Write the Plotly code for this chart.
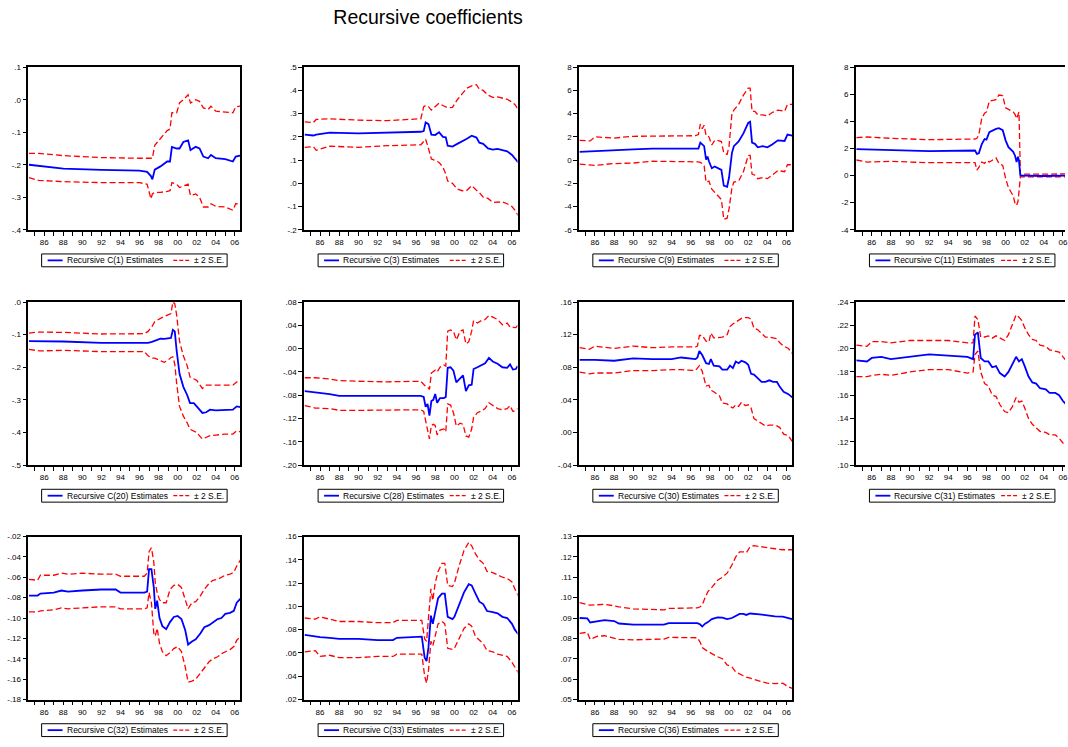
import plotly.graph_objects as go

W, H = 1068, 747
FONT = "Liberation Sans, Arial, sans-serif"
BLUE = "#0000FF"
RED = "#FF0000"

# ---------------- recursive estimates (estimate, +2 S.E., -2 S.E.) ----------------
C1_X = [1984.4, 1985.4, 1988.0, 1992.0, 1996.0, 1996.8, 1997.2, 1997.35, 1997.6, 1998.2,
        1998.9, 1999.2, 1999.4, 1999.9, 2000.2, 2000.6, 2001.1, 2001.35, 2001.9, 2002.3,
        2002.7, 2003.2, 2003.5, 2004.0, 2005.0, 2005.8, 2006.1, 2006.55]
C1_EST = [-0.200, -0.203, -0.212, -0.216, -0.218, -0.222, -0.235, -0.245, -0.215, -0.205,
          -0.190, -0.190, -0.145, -0.150, -0.150, -0.130, -0.125, -0.155, -0.145, -0.150,
          -0.175, -0.180, -0.170, -0.180, -0.183, -0.190, -0.175, -0.172]
C1_UP = [-0.165, -0.165, -0.172, -0.178, -0.180, -0.180, -0.180, -0.180, -0.140, -0.120,
         -0.095, -0.090, -0.040, -0.040, -0.010, 0.000, 0.015, -0.010, 0.000, -0.005,
         -0.025, -0.030, -0.020, -0.035, -0.037, -0.040, -0.022, -0.020]
C1_LO = [-0.240, -0.248, -0.252, -0.255, -0.255, -0.260, -0.305, -0.290, -0.285, -0.285,
         -0.282, -0.280, -0.255, -0.260, -0.270, -0.265, -0.260, -0.295, -0.290, -0.300,
         -0.330, -0.330, -0.320, -0.328, -0.330, -0.340, -0.320, -0.320]

C3_X = [1984.4, 1985.3, 1985.6, 1987.0, 1990.0, 1993.0, 1996.5, 1996.8, 1997.0, 1997.3,
        1997.6, 1998.0, 1998.4, 1998.8, 1999.1, 1999.3, 1999.8, 2000.3, 2000.8, 2001.3,
        2001.8, 2002.3, 2002.6, 2003.0, 2003.5, 2004.0, 2004.5, 2005.0, 2005.5, 2006.0,
        2006.3, 2006.66]
C3_EST = [0.210, 0.206, 0.210, 0.218, 0.215, 0.217, 0.222, 0.225, 0.262, 0.255,
          0.210, 0.208, 0.220, 0.200, 0.198, 0.162, 0.158, 0.170, 0.180, 0.192,
          0.205, 0.197, 0.175, 0.170, 0.150, 0.145, 0.148, 0.142, 0.138, 0.122,
          0.108, 0.090]
C3_UP = [0.265, 0.262, 0.275, 0.278, 0.272, 0.270, 0.278, 0.330, 0.335, 0.330,
         0.315, 0.330, 0.345, 0.335, 0.330, 0.325, 0.327, 0.360, 0.385, 0.410,
         0.420, 0.425, 0.405, 0.400, 0.380, 0.370, 0.372, 0.368, 0.362, 0.350,
         0.340, 0.318]
C3_LO = [0.155, 0.158, 0.142, 0.160, 0.155, 0.162, 0.166, 0.180, 0.190, 0.150,
         0.105, 0.098, 0.090, 0.070, 0.040, 0.010, 0.000, -0.025, -0.032, -0.030,
         -0.010, -0.030, -0.040, -0.060, -0.065, -0.082, -0.082, -0.080, -0.088, -0.100,
         -0.115, -0.140]

C9_X = [1984.4, 1985.5, 1986.0, 1988.0, 1990.0, 1992.0, 1994.0, 1996.5, 1996.8, 1997.0,
        1997.2, 1997.4, 1997.6, 1997.75, 1997.9, 1998.2, 1998.5, 1998.8, 1999.2, 1999.45,
        1999.8, 2000.0, 2000.3, 2000.5, 2001.0, 2001.5, 2002.0, 2002.2, 2002.4, 2002.7,
        2003.0, 2003.5, 2004.0, 2004.5, 2005.1, 2005.8, 2006.1, 2006.6]
C9_EST = [0.70, 0.75, 0.78, 0.85, 0.93, 0.98, 1.00, 1.00, 1.00, 1.50,
          1.35, 1.20, 0.05, 0.30, -0.10, -0.70, -0.55, -0.70, -0.85, -2.20,
          -2.30, -1.50, 0.60, 1.20, 1.60, 2.30, 3.20, 3.30, 1.50, 1.40,
          1.10, 1.20, 1.10, 1.35, 1.70, 1.65, 2.20, 2.10]
C9_UP = [1.70, 1.65, 2.00, 1.90, 2.05, 2.05, 2.10, 2.10, 2.20, 3.10,
         2.70, 3.00, 2.10, 2.10, 2.00, 1.30, 1.70, 1.70, 1.60, 0.60,
         0.50, 1.20, 4.00, 4.30, 4.80, 5.60, 6.20, 6.20, 4.20, 4.20,
         3.90, 3.90, 3.80, 4.10, 4.30, 4.20, 4.80, 4.80]
C9_LO = [-0.35, -0.40, -0.45, -0.30, -0.25, -0.10, -0.10, -0.15, -0.15, -0.20,
         -0.30, -0.50, -1.90, -1.85, -1.80, -2.50, -2.80, -3.10, -3.40, -5.10,
         -5.00, -4.20, -2.40, -1.90, -1.80, -1.00, 0.40, 0.40, -1.20, -1.30,
         -1.60, -1.50, -1.60, -1.30, -0.90, -1.00, -0.40, -0.40]

C11_X = [1984.4, 1985.5, 1988.0, 1992.0, 1996.8, 1997.0, 1997.2, 1997.5, 1997.8, 1998.0,
         1998.3, 1998.8, 1999.0, 1999.3, 1999.7, 2000.0, 2000.3, 2000.8, 2001.0, 2001.15,
         2001.3, 2001.4, 2001.55, 2002.0, 2004.0, 2006.6]
C11_EST = [1.95, 1.92, 1.88, 1.80, 1.85, 1.60, 1.65, 2.30, 2.70, 2.65,
           3.20, 3.40, 3.45, 3.50, 3.35, 2.60, 2.10, 1.75, 1.45, 1.00,
           1.40, 1.10, 0.00, 0.00, -0.03, 0.00]
C11_UP = [2.80, 2.85, 2.75, 2.65, 2.70, 2.75, 3.00, 4.20, 4.60, 4.70,
          5.50, 5.55, 5.60, 5.95, 5.90, 5.00, 4.90, 4.70, 4.50, 4.20,
          4.50, 4.70, 0.10, 0.10, 0.10, 0.12]
C11_LO = [1.15, 1.00, 1.05, 0.95, 0.95, 0.40, 0.60, 1.00, 0.90, 1.10,
          1.00, 1.20, 1.30, 0.90, 0.75, -0.20, -0.90, -1.50, -2.10, -2.20,
          -1.90, -1.20, -0.10, -0.10, -0.10, -0.10]

C20_X = [1984.4, 1985.5, 1988.0, 1992.0, 1996.5, 1996.9, 1997.3, 1997.6, 1998.2, 1998.6,
         1999.0, 1999.3, 1999.5, 1999.7, 1999.9, 2000.2, 2000.6, 2001.0, 2001.3, 2001.7,
         2002.0, 2002.6, 2003.0, 2003.4, 2004.0, 2005.0, 2005.8, 2006.2, 2006.6]
C20_EST = [-0.120, -0.120, -0.121, -0.125, -0.126, -0.125, -0.122, -0.118, -0.112, -0.113,
           -0.112, -0.110, -0.085, -0.090, -0.150, -0.220, -0.260, -0.285, -0.310, -0.310,
           -0.320, -0.340, -0.338, -0.330, -0.332, -0.330, -0.330, -0.320, -0.322]
C20_UP = [-0.095, -0.092, -0.093, -0.098, -0.097, -0.090, -0.075, -0.060, -0.050, -0.045,
          -0.040, -0.035, 0.000, -0.005, -0.040, -0.120, -0.165, -0.195, -0.230, -0.235,
          -0.240, -0.265, -0.255, -0.255, -0.255, -0.257, -0.255, -0.245, -0.248]
C20_LO = [-0.145, -0.150, -0.148, -0.152, -0.152, -0.165, -0.172, -0.172, -0.180, -0.185,
          -0.178, -0.170, -0.168, -0.190, -0.250, -0.320, -0.350, -0.370, -0.390, -0.395,
          -0.400, -0.420, -0.415, -0.410, -0.408, -0.405, -0.405, -0.395, -0.398]

C28_X = [1984.4, 1985.5, 1987.0, 1988.0, 1990.0, 1993.0, 1996.5, 1996.8, 1997.0, 1997.2,
         1997.4, 1997.6, 1997.8, 1998.0, 1998.2, 1998.5, 1998.9, 1999.1, 1999.3, 1999.6,
         1999.9, 2000.2, 2000.6, 2000.9, 2001.2, 2001.5, 2001.8, 2002.0, 2002.4, 2002.8,
         2003.2, 2003.6, 2004.0, 2004.5, 2005.0, 2005.5, 2005.8, 2006.1, 2006.4, 2006.6]
C28_EST = [-0.073, -0.075, -0.078, -0.081, -0.081, -0.082, -0.081, -0.083, -0.100, -0.095,
           -0.115, -0.090, -0.088, -0.078, -0.093, -0.085, -0.085, -0.083, -0.033, -0.032,
           -0.038, -0.058, -0.050, -0.046, -0.073, -0.063, -0.062, -0.035, -0.032, -0.028,
           -0.025, -0.016, -0.022, -0.026, -0.032, -0.033, -0.027, -0.036, -0.035, -0.030]
C28_UP = [-0.050, -0.050, -0.052, -0.055, -0.056, -0.057, -0.056, -0.062, -0.065, -0.066,
          -0.070, -0.042, -0.040, -0.037, -0.040, -0.032, -0.028, -0.030, 0.030, 0.032,
          0.030, 0.015, 0.030, 0.032, 0.008, 0.012, 0.030, 0.048, 0.044, 0.048,
          0.050, 0.057, 0.054, 0.050, 0.041, 0.044, 0.037, 0.036, 0.036, 0.040]
C28_LO = [-0.098, -0.102, -0.103, -0.106, -0.106, -0.105, -0.105, -0.108, -0.125, -0.140,
          -0.155, -0.132, -0.130, -0.132, -0.148, -0.140, -0.138, -0.143, -0.095, -0.097,
          -0.110, -0.133, -0.128, -0.130, -0.150, -0.152, -0.138, -0.118, -0.110, -0.107,
          -0.103, -0.093, -0.097, -0.103, -0.105, -0.103, -0.098, -0.108, -0.106, -0.103]

C30_X = [1984.4, 1985.4, 1986.0, 1988.0, 1990.0, 1992.0, 1994.0, 1995.0, 1996.5, 1996.7,
         1996.9, 1997.2, 1997.6, 1997.9, 1998.1, 1998.4, 1999.0, 1999.3, 1999.8, 2000.1,
         2000.4, 2000.7, 2001.0, 2001.3, 2001.7, 2002.0, 2002.3, 2002.6, 2003.0, 2003.4,
         2003.8, 2004.2, 2004.6, 2005.0, 2005.3, 2005.7, 2006.2, 2006.6]
C30_EST = [0.089, 0.089, 0.089, 0.088, 0.091, 0.090, 0.090, 0.092, 0.090, 0.092,
           0.100, 0.095, 0.085, 0.084, 0.090, 0.082, 0.081, 0.077, 0.077, 0.082,
           0.079, 0.087, 0.085, 0.088, 0.086, 0.083, 0.072, 0.071, 0.067, 0.062,
           0.062, 0.064, 0.062, 0.062, 0.056, 0.050, 0.047, 0.043]
C30_UP = [0.104, 0.102, 0.106, 0.103, 0.106, 0.104, 0.105, 0.105, 0.105, 0.106,
          0.119, 0.119, 0.112, 0.111, 0.122, 0.116, 0.117, 0.117, 0.120, 0.130,
          0.133, 0.135, 0.138, 0.140, 0.141, 0.141, 0.139, 0.128, 0.126, 0.122,
          0.117, 0.117, 0.116, 0.115, 0.110, 0.106, 0.103, 0.097]
C30_LO = [0.074, 0.072, 0.073, 0.073, 0.076, 0.076, 0.077, 0.077, 0.076, 0.079,
          0.082, 0.075, 0.057, 0.058, 0.052, 0.050, 0.045, 0.036, 0.035, 0.032,
          0.030, 0.034, 0.032, 0.037, 0.033, 0.034, 0.030, 0.017, 0.014, 0.010,
          0.008, 0.009, 0.009, 0.008, 0.006, -0.002, -0.004, -0.011]

C31_X = [1984.4, 1985.5, 1986.0, 1987.0, 1988.0, 1990.0, 1992.0, 1994.0, 1996.0, 1996.6,
         1996.8, 1997.1, 1997.4, 1997.8, 1998.2, 1998.6, 1999.0, 1999.4, 1999.9, 2000.3,
         2000.7, 2001.1, 2001.4, 2001.7, 2002.0, 2002.4, 2002.8, 2003.2, 2003.6, 2004.2,
         2004.6, 2005.2, 2005.6, 2006.0, 2006.6]
C31_EST = [0.190, 0.189, 0.192, 0.193, 0.191, 0.193, 0.195, 0.194, 0.193, 0.191,
           0.212, 0.214, 0.192, 0.189, 0.189, 0.184, 0.185, 0.179, 0.176, 0.180,
           0.186, 0.193, 0.189, 0.191, 0.185, 0.176, 0.171, 0.170, 0.166, 0.165,
           0.162, 0.162, 0.160, 0.155, 0.150]
C31_UP = [0.203, 0.202, 0.206, 0.206, 0.205, 0.207, 0.207, 0.207, 0.205, 0.205,
          0.228, 0.225, 0.210, 0.210, 0.211, 0.209, 0.211, 0.209, 0.207, 0.212,
          0.220, 0.229, 0.227, 0.224, 0.218, 0.212, 0.208, 0.207, 0.203, 0.202,
          0.199, 0.198, 0.197, 0.193, 0.187]
C31_LO = [0.176, 0.176, 0.177, 0.178, 0.177, 0.180, 0.182, 0.182, 0.179, 0.180,
          0.195, 0.198, 0.180, 0.170, 0.168, 0.160, 0.159, 0.152, 0.146, 0.145,
          0.150, 0.158, 0.154, 0.155, 0.149, 0.140, 0.135, 0.132, 0.129, 0.128,
          0.126, 0.126, 0.123, 0.119, 0.114]

C32_X = [1984.4, 1985.3, 1985.6, 1987.0, 1987.8, 1988.5, 1990.0, 1992.0, 1993.5, 1994.0,
         1996.5, 1996.8, 1997.0, 1997.25, 1997.5, 1997.65, 1997.85, 1998.1, 1998.4, 1998.8,
         1999.2, 1999.6, 2000.0, 2000.4, 2000.8, 2001.1, 2001.5, 2001.9, 2002.4, 2002.8,
         2003.3, 2003.7, 2004.2, 2004.6, 2005.0, 2005.5, 2005.9, 2006.2, 2006.6]
C32_EST = [-0.078, -0.078, -0.076, -0.075, -0.073, -0.074, -0.073, -0.072, -0.072, -0.075,
           -0.075, -0.074, -0.052, -0.052, -0.070, -0.091, -0.083, -0.100, -0.108, -0.111,
           -0.104, -0.099, -0.098, -0.101, -0.112, -0.126, -0.123, -0.121, -0.115, -0.109,
           -0.107, -0.104, -0.101, -0.100, -0.096, -0.095, -0.093, -0.085, -0.081]
C32_UP = [-0.062, -0.063, -0.058, -0.058, -0.056, -0.057, -0.056, -0.057, -0.057, -0.059,
          -0.059, -0.056, -0.035, -0.031, -0.045, -0.065, -0.075, -0.082, -0.085, -0.085,
          -0.072, -0.068, -0.067, -0.070, -0.082, -0.091, -0.085, -0.084, -0.078, -0.072,
          -0.066, -0.063, -0.062, -0.060, -0.058, -0.057, -0.055, -0.049, -0.043]
C32_LO = [-0.094, -0.094, -0.093, -0.092, -0.090, -0.091, -0.090, -0.089, -0.089, -0.091,
          -0.091, -0.090, -0.075, -0.085, -0.115, -0.118, -0.110, -0.125, -0.133, -0.137,
          -0.134, -0.130, -0.128, -0.133, -0.148, -0.163, -0.162, -0.160, -0.154, -0.149,
          -0.143, -0.140, -0.138, -0.135, -0.133, -0.131, -0.128, -0.122, -0.118]

C33_X = [1984.4, 1985.5, 1986.0, 1987.0, 1988.0, 1990.0, 1992.0, 1993.6, 1994.0, 1996.6,
         1996.9, 1997.1, 1997.3, 1997.55, 1997.75, 1998.0, 1998.3, 1998.7, 1999.0, 1999.3,
         1999.8, 2000.0, 2000.5, 2001.0, 2001.5, 2001.8, 2002.2, 2002.6, 2003.0, 2003.4,
         2004.0, 2004.5, 2005.0, 2005.5, 2006.0, 2006.3, 2006.66]
C33_EST = [0.0755, 0.0740, 0.0735, 0.0730, 0.0720, 0.0720, 0.0710, 0.0710, 0.0730, 0.0740,
           0.0560, 0.0530, 0.0650, 0.0920, 0.0850, 0.0950, 0.1070, 0.1110, 0.1110, 0.0910,
           0.0890, 0.0910, 0.1020, 0.1120, 0.1190, 0.1180, 0.1110, 0.1040, 0.1020, 0.0960,
           0.0950, 0.0940, 0.0910, 0.0900, 0.0850, 0.0800, 0.0760]
C33_UP = [0.090, 0.089, 0.091, 0.089, 0.087, 0.087, 0.086, 0.086, 0.088, 0.088,
          0.072, 0.070, 0.090, 0.115, 0.105, 0.120, 0.130, 0.137, 0.137, 0.118,
          0.117, 0.120, 0.135, 0.148, 0.155, 0.152, 0.145, 0.140, 0.137, 0.130,
          0.129, 0.127, 0.125, 0.124, 0.121, 0.115, 0.109]
C33_LO = [0.061, 0.062, 0.057, 0.058, 0.056, 0.056, 0.057, 0.057, 0.059, 0.059,
          0.040, 0.034, 0.045, 0.070, 0.066, 0.075, 0.085, 0.087, 0.085, 0.064,
          0.063, 0.064, 0.072, 0.081, 0.085, 0.083, 0.074, 0.071, 0.068, 0.062,
          0.061, 0.059, 0.058, 0.057, 0.052, 0.048, 0.043]

C36_X = [1984.4, 1985.2, 1985.5, 1986.2, 1987.0, 1988.0, 1988.5, 1990.0, 1992.0, 1993.2,
         1993.7, 1995.0, 1996.7, 1997.0, 1997.2, 1997.5, 1997.8, 1998.2, 1998.8, 1999.3,
         1999.8, 2000.3, 2000.7, 2001.1, 2001.5, 2001.8, 2002.2, 2002.6, 2003.2, 2004.0,
         2004.8, 2005.6, 2006.2, 2006.6]
C36_EST = [0.0900, 0.0898, 0.0878, 0.0885, 0.0890, 0.0885, 0.0873, 0.0868, 0.0868, 0.0868,
           0.0875, 0.0875, 0.0875, 0.0868, 0.0858, 0.0872, 0.0880, 0.0895, 0.0903, 0.0902,
           0.0895, 0.0900, 0.0910, 0.0920, 0.0920, 0.0915, 0.0922, 0.0921, 0.0918, 0.0913,
           0.0908, 0.0907, 0.0900, 0.0895]
C36_UP = [0.0975, 0.0965, 0.0963, 0.0965, 0.0967, 0.0960, 0.0955, 0.0945, 0.0940, 0.0940,
          0.0947, 0.0948, 0.0950, 0.0955, 0.0965, 0.1000, 0.1030, 0.1050, 0.1085, 0.1100,
          0.1120, 0.1160, 0.1200, 0.1225, 0.1225, 0.1220, 0.1250, 0.1255, 0.1250, 0.1245,
          0.1240, 0.1235, 0.1235, 0.1235]
C36_LO = [0.0825, 0.0830, 0.0795, 0.0810, 0.0813, 0.0800, 0.0795, 0.0793, 0.0797, 0.0797,
          0.0805, 0.0805, 0.0803, 0.0780, 0.0755, 0.0745, 0.0735, 0.0725, 0.0710, 0.0700,
          0.0670, 0.0660, 0.0635, 0.0625, 0.0615, 0.0610, 0.0605, 0.0598, 0.0590, 0.0580,
          0.0578, 0.0580, 0.0562, 0.0555]

# ---------------- axis ticks ----------------
X_TICK_YEARS = [1986, 1988, 1990, 1992, 1994, 1996, 1998, 2000, 2002, 2004, 2006]
X_TICK_TEXT = ["86", "88", "90", "92", "94", "96", "98", "00", "02", "04", "06"]

C1_YTICKS = [-0.4, -0.3, -0.2, -0.1, 0.0, 0.1]
C3_YTICKS = [-0.2, -0.1, 0.0, 0.1, 0.2, 0.3, 0.4, 0.5]
C9_YTICKS = [-6, -4, -2, 0, 2, 4, 6, 8]
C11_YTICKS = [-4, -2, 0, 2, 4, 6, 8]
C20_YTICKS = [-0.5, -0.4, -0.3, -0.2, -0.1, 0.0]
C28_YTICKS = [-0.20, -0.16, -0.12, -0.08, -0.04, 0.00, 0.04, 0.08]
C30_YTICKS = [-0.04, 0.00, 0.04, 0.08, 0.12, 0.16]
C31_YTICKS = [0.10, 0.12, 0.14, 0.16, 0.18, 0.20, 0.22, 0.24]
C32_YTICKS = [-0.18, -0.16, -0.14, -0.12, -0.10, -0.08, -0.06, -0.04, -0.02]
C33_YTICKS = [0.02, 0.04, 0.06, 0.08, 0.10, 0.12, 0.14, 0.16]
C36_YTICKS = [0.05, 0.06, 0.07, 0.08, 0.09, 0.10, 0.11, 0.12, 0.13]

PANELS = [
    ("C(1)", C1_X, C1_EST, C1_UP, C1_LO, C1_YTICKS, 1),
    ("C(3)", C3_X, C3_EST, C3_UP, C3_LO, C3_YTICKS, 1),
    ("C(9)", C9_X, C9_EST, C9_UP, C9_LO, C9_YTICKS, 0),
    ("C(11)", C11_X, C11_EST, C11_UP, C11_LO, C11_YTICKS, 0),
    ("C(20)", C20_X, C20_EST, C20_UP, C20_LO, C20_YTICKS, 1),
    ("C(28)", C28_X, C28_EST, C28_UP, C28_LO, C28_YTICKS, 2),
    ("C(30)", C30_X, C30_EST, C30_UP, C30_LO, C30_YTICKS, 2),
    ("C(31)", C31_X, C31_EST, C31_UP, C31_LO, C31_YTICKS, 2),
    ("C(32)", C32_X, C32_EST, C32_UP, C32_LO, C32_YTICKS, 2),
    ("C(33)", C33_X, C33_EST, C33_UP, C33_LO, C33_YTICKS, 2),
    ("C(36)", C36_X, C36_EST, C36_UP, C36_LO, C36_YTICKS, 2),
]

# plot-area pixel boxes: column left/right, row top/bottom
COLS = [(28.5, 241.0), (305.0, 519.0), (580.7, 794.3), (858.3, 1071.5)]
ROWS = [(64.0, 228.5), (301.7, 466.7), (539.0, 704.0)]
X_RANGE = [1984.34, 2006.58]


def eviews_label(v, dec):
    s = f"{v:.{dec}f}"
    if s.startswith("-0."):
        s = "-" + s[2:]
    elif s.startswith("0."):
        s = s[1:]
    return s


fig = go.Figure()
shapes = []
annotations = []

for i, (name, xs, est, up, lo, yticks, dec) in enumerate(PANELS, start=1):
    row, col = divmod(i - 1, 4)
    left, right = COLS[col]
    top, bottom = ROWS[row]
    vis_right = min(right, W)
    xr = list(X_RANGE)
    if vis_right < right:
        px_per_year = (right - left) / (X_RANGE[1] - X_RANGE[0])
        xr[1] = X_RANGE[0] + (vis_right - left) / px_per_year
    sfx = "" if i == 1 else str(i)

    for series in (up, lo):
        fig.add_trace(go.Scatter(
            x=xs, y=series, mode="lines", xaxis=f"x{sfx}", yaxis=f"y{sfx}",
            line=dict(color=RED, width=1.3, dash="6px,3px"), showlegend=False,
            hoverinfo="skip"))
    fig.add_trace(go.Scatter(
        x=xs, y=est, mode="lines", xaxis=f"x{sfx}", yaxis=f"y{sfx}",
        line=dict(color=BLUE, width=1.8), showlegend=False, hoverinfo="skip"))

    fig.layout[f"xaxis{sfx}"] = dict(
        domain=[left / W, vis_right / W], range=xr, anchor=f"y{sfx}",
        tickmode="array", tickvals=X_TICK_YEARS, ticktext=X_TICK_TEXT,
        ticks="outside", ticklen=4, tickwidth=1, tickcolor="black",
        ticklabeloverflow="allow",
        minor=dict(ticks="outside", ticklen=4, tickwidth=1, tickcolor="black",
                   dtick=1, tick0=1985, showgrid=False),
        showline=True, linecolor="black", linewidth=1.6, mirror=True,
        showgrid=False, zeroline=False,
        tickfont=dict(family=FONT, size=8, color="black"))
    fig.layout[f"yaxis{sfx}"] = dict(
        domain=[1 - bottom / H, 1 - top / H], range=[yticks[0], yticks[-1]],
        anchor=f"x{sfx}", tickmode="array", tickvals=yticks,
        ticktext=[eviews_label(v, dec) for v in yticks],
        ticks="outside", ticklen=4, tickwidth=1, tickcolor="black",
        showline=True, linecolor="black", linewidth=1.6,
        mirror=(vis_right >= right), showgrid=False, zeroline=False,
        tickfont=dict(family=FONT, size=8, color="black"))

    # legend box under each panel
    cx = (left + right) / 2
    bl, br = cx - 93, cx + 93
    bt = bottom + 24.5
    bb = bt + 13
    my = (bt + bb) / 2
    shapes.append(dict(type="rect", xref="paper", yref="paper",
                       x0=bl / W, x1=br / W, y0=1 - bb / H, y1=1 - bt / H,
                       line=dict(color="black", width=1), fillcolor="white"))
    shapes.append(dict(type="line", xref="paper", yref="paper",
                       x0=(bl + 6) / W, x1=(bl + 21) / W, y0=1 - my / H, y1=1 - my / H,
                       line=dict(color=BLUE, width=1.8)))
    shapes.append(dict(type="line", xref="paper", yref="paper",
                       x0=(br - 54) / W, x1=(br - 38) / W, y0=1 - my / H, y1=1 - my / H,
                       line=dict(color=RED, width=1.3, dash="4px,2px")))
    annotations.append(dict(text=f"Recursive {name} Estimates", xref="paper", yref="paper",
                            x=(bl + 23) / W, y=1 - my / H, xanchor="left", yanchor="middle",
                            showarrow=False, font=dict(family=FONT, size=8.5, color="black")))
    annotations.append(dict(text="\u00b1 2 S.E.", xref="paper", yref="paper",
                            x=(br - 35) / W, y=1 - my / H, xanchor="left", yanchor="middle",
                            showarrow=False, font=dict(family=FONT, size=8.5, color="black")))

fig.update_layout(
    width=W, height=H, margin=dict(l=0, r=0, t=0, b=0),
    paper_bgcolor="white", plot_bgcolor="white",
    showlegend=False, shapes=shapes, annotations=annotations,
    title=dict(text="Recursive coefficients", x=428 / W, y=1 - 17.5 / H,
               xref="container", yref="container", xanchor="center", yanchor="middle",
               font=dict(family=FONT, size=19.5, color="black")),
)

fig.write_html("out.html", config={"displayModeBar": False})
